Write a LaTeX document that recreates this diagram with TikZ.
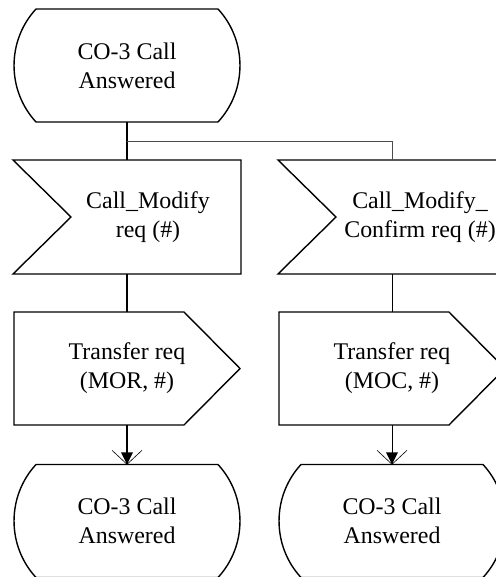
\documentclass[tikz,border=0pt]{standalone}
\usepackage{fontspec}
\setmainfont{Liberation Serif}
\usetikzlibrary{calc}
\tikzset{
  x=1bp, y=-1bp,
  outline/.style={draw=black, line width=1.4bp, line join=miter},
  lbl/.style={align=center, inner sep=0pt, font=\fontsize{24}{29}\selectfont},
  boxname/.style={draw=none, inner sep=0pt, minimum width=#1, minimum height=113bp},
  thickconn/.style={draw=black, line width=1.5bp},
  thinconn/.style={draw=black, line width=0.8bp},
  branch/.style={draw=black!70, line width=0.9bp},
}
\newcommand{\StateShape}[4]{% name, x, y, text
  \begin{scope}[shift={(#2,#3)}]
    \path[outline] (-91,-56.5) -- (91,-56.5)
      .. controls (120.3,-24.8) and (120.3,24.8) .. (91,56.5)
      -- (-91,56.5)
      .. controls (-120.3,24.8) and (-120.3,-24.8) .. cycle;
    \node[boxname=226bp] (#1) at (0,0) {};
    \node[lbl] (#1-t) at (0,0) {#4};
  \end{scope}}
\newcommand{\InShape}[5]{% name, x, y, text xshift, text
  \begin{scope}[shift={(#2,#3)}]
    \path[outline] (-114,-57) -- (114,-57) -- (114,57) -- (-114,57) -- (-56,0) -- cycle;
    \node[boxname=228bp, minimum height=114bp] (#1) at (0,0) {};
    \node[lbl] (#1-t) at (#4,0) {#5};
  \end{scope}}
\newcommand{\OutShape}[4]{% name, x, y, text
  \begin{scope}[shift={(#2,#3)}]
    \path[outline] (-113,-56.5) -- (57,-56.5) -- (113,0) -- (57,56.5) -- (-113,56.5) -- cycle;
    \node[boxname=226bp] (#1) at (0,0) {};
    \node[lbl] (#1-t) at (0,0) {#4};
  \end{scope}}
\newcommand{\SdlTip}[1]{%
  \fill[black] (#1) -- ++(-6,-12) -- ++(12,0) -- cycle;
  \draw[black, line width=0.6bp] ($(#1)+(-15,-14)$) -- (#1) -- ++(15,-14);}
\begin{document}
\begin{tikzpicture}
\useasboundingbox (0,0) rectangle (496,577);
\clip (0,0) rectangle (496,576.2);
\StateShape{ts}{127}{65.5}{CO-3 Call\\Answered}
\InShape{li}{127}{217}{21}{Call\_Modify\\req (\#)}
\InShape{ri}{392}{217}{28}{Call\_Modify\_\\Confirm req (\#)}
\OutShape{lo}{127}{368.5}{Transfer req\\(MOR, \#)}
\OutShape{ro}{392}{368.5}{Transfer req\\(MOC, \#)}
\StateShape{ls}{127}{521}{CO-3 Call\\Answered}
\StateShape{rs}{392}{521}{CO-3 Call\\Answered}
\coordinate (br) at ($(ts.south)!0.5!(li.north)$);
\draw[thickconn] (ts.south) -- (li.north);
\draw[branch] (br) -| (ri.north);
\draw[thickconn] (li.south) -- (lo.north);
\draw[thinconn] (ri.south) -- (ro.north);
\draw[thickconn] (lo.south) -- (ls.north);
\draw[thinconn] (ro.south) -- (rs.north);
\SdlTip{ls.north}
\SdlTip{rs.north}
\end{tikzpicture}
\end{document}
